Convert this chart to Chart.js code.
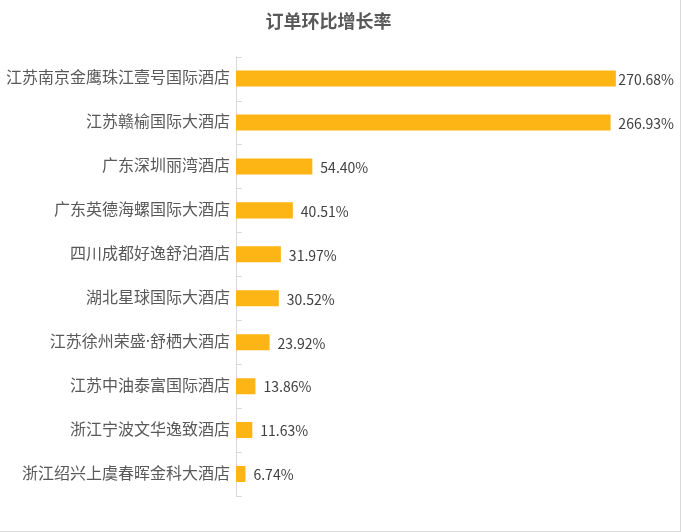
<!DOCTYPE html>
<html lang="zh">
  <head>
    <meta charset="UTF-8" />
    <title>订单环比增长率</title>
    <script src="https://cdn.jsdelivr.net/npm/chart.js"></script>
    <style>
      body {
        margin: 0;
        background: #fff;
      }
      .frame {
        width: 680px;
        height: 531px;
        border-right: 1px solid #d9d9d9;
        border-bottom: 1px solid #d9d9d9;
        position: relative;
      }
    </style>
  </head>
  <body>
    <div class="frame"><canvas id="chart" width="680" height="531"></canvas></div>
    <script>
      const hotels = [
        "江苏南京金鹰珠江壹号国际酒店",
        "江苏赣榆国际大酒店",
        "广东深圳丽湾酒店",
        "广东英德海螺国际大酒店",
        "四川成都好逸舒泊酒店",
        "湖北星球国际大酒店",
        "江苏徐州荣盛·舒栖大酒店",
        "江苏中油泰富国际酒店",
        "浙江宁波文华逸致酒店",
        "浙江绍兴上虞春晖金科大酒店",
      ];
      const growthRates = [270.68, 266.93, 54.4, 40.51, 31.97, 30.52, 23.92, 13.86, 11.63, 6.74];

      const cjkFont = '"Noto Sans CJK SC", "Noto Sans", sans-serif';
      // latin first so the middle dot stays narrow, CJK falls back
      const labelFont = '"Noto Sans", "Noto Sans CJK SC", sans-serif';

      // short tick marks on the inner side of the category axis
      const innerTicks = {
        id: "innerTicks",
        afterDraw(chart) {
          const ctx = chart.ctx;
          const y = chart.scales.y;
          const left = chart.chartArea.left;
          ctx.save();
          ctx.strokeStyle = "#d9d9d9";
          ctx.lineWidth = 1;
          for (let i = 0; i <= hotels.length; i++) {
            const py = Math.round(y.getPixelForValue(i - 0.5)) + 0.5;
            ctx.beginPath();
            ctx.moveTo(left, py);
            ctx.lineTo(left + 6, py);
            ctx.stroke();
          }
          ctx.restore();
        },
      };

      const valueLabels = {
        id: "valueLabels",
        afterDatasetsDraw(chart) {
          const ctx = chart.ctx;
          const meta = chart.getDatasetMeta(0);
          ctx.save();
          ctx.font = "14px " + cjkFont;
          ctx.fillStyle = "#404040";
          ctx.textBaseline = "middle";
          meta.data.forEach((bar, i) => {
            const text = growthRates[i].toFixed(2) + "%";
            const w = ctx.measureText(text).width;
            let x = bar.x + 8;
            if (x + w > chart.width - 6) x = chart.width - 6 - w;
            ctx.fillText(text, x, bar.y + 1);
          });
          ctx.restore();
        },
      };

      new Chart(document.getElementById("chart"), {
        type: "bar",
        data: {
          labels: hotels,
          datasets: [
            {
              data: growthRates,
              backgroundColor: "#FDB515",
              barPercentage: 0.365,
              categoryPercentage: 1,
            },
          ],
        },
        options: {
          indexAxis: "y",
          responsive: false,
          animation: false,
          layout: {
            padding: { left: 0, right: 23, top: 10, bottom: 35 },
          },
          plugins: {
            legend: { display: false },
            tooltip: { enabled: false },
            title: {
              display: true,
              text: "订单环比增长率",
              color: "#595959",
              font: { family: cjkFont, size: 18, weight: "bold", lineHeight: 1.2 },
              padding: { top: 0, bottom: 25 },
            },
          },
          scales: {
            x: {
              display: false,
              min: 0,
              max: 300,
            },
            y: {
              afterFit(scale) {
                scale.width = 236;
              },
              grid: {
                display: true,
                drawOnChartArea: false,
                drawTicks: false,
                color: "#d9d9d9",
              },
              border: { display: true, color: "#d9d9d9", width: 1 },
              ticks: {
                padding: 6,
                color: "#595959",
                font: { family: labelFont, size: 16 },
              },
            },
          },
        },
        plugins: [innerTicks, valueLabels],
      });
    </script>
  </body>
</html>
